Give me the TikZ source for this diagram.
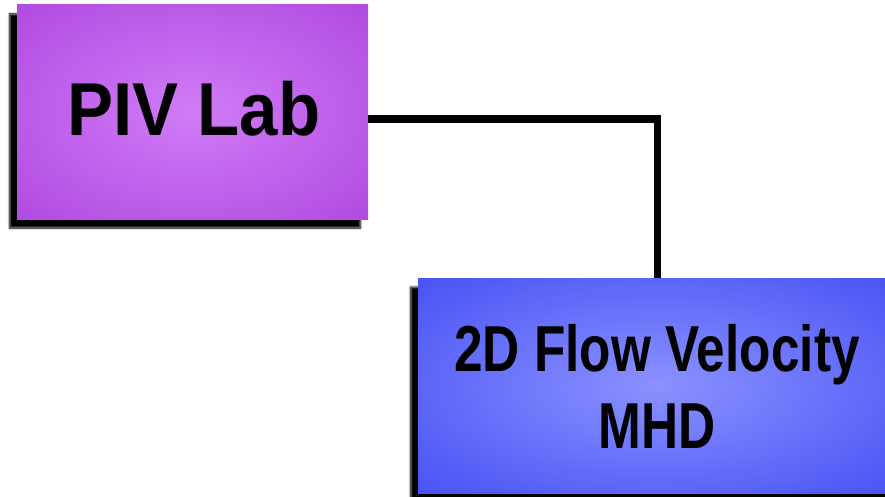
\documentclass[tikz,border=0pt]{standalone}
\usepackage{fontspec}
\setmainfont{Liberation Sans}
\usetikzlibrary{shadows.blur}
\definecolor{purpleedge}{HTML}{B24CE2}
\definecolor{purplemid}{HTML}{D07CF6}
\definecolor{blueedge}{HTML}{4B55F4}
\definecolor{bluemid}{HTML}{8A92FF}
% soft glows that reach the edge colour only near the corners
\pgfdeclareradialshading{purpleglow}{\pgfpoint{0bp}{0bp}}{%
  color(0bp)=(purplemid); color(34bp)=(purpleedge); color(50bp)=(purpleedge)}
\pgfdeclareradialshading{blueglow}{\pgfpoint{0bp}{0bp}}{%
  color(0bp)=(bluemid); color(34bp)=(blueedge); color(50bp)=(blueedge)}
\tikzset{
  card/.style={rectangle, draw=none, inner sep=0pt,
    blur shadow={shadow xshift=-7.5pt, shadow yshift=-9pt,
      shadow blur radius=2pt, shadow opacity=100, shadow blur steps=6}},
  cardtext/.style={inner sep=0pt, anchor=base, text=black},
  link/.style={draw=black, line width=7.5pt}
}
\begin{document}
\begin{tikzpicture}[x=1pt,y=-1pt]
\useasboundingbox (0,0) rectangle (885,497);
\clip (0,0) rectangle (885,497);
% corner of the elbow connector
\coordinate (bend) at (657.5,119);
% cards
\node[card, minimum width=351pt, minimum height=214pt,
      shading=purpleglow] (piv) at (192.5,112) {};
\node[card, minimum width=478pt, minimum height=215pt,
      shading=blueglow] (flow) at (657,385.5) {};
\draw[link] (piv.east |- bend) -- (bend) -- (bend |- flow.north);
% labels
\node[cardtext, font=\bfseries\fontsize{75}{90}\selectfont] (pivtext) at (194,136)
  {\scalebox{0.92}[1]{PIV Lab}};
\node[cardtext, font=\bfseries\fontsize{65}{76.6}\selectfont] (flowtext) at (657,371.7)
  {\scalebox{0.79}[1]{\setlength{\tabcolsep}{0pt}\begin{tabular}[t]{c}2D Flow Velocity\\MHD\end{tabular}}};
\end{tikzpicture}
\end{document}
